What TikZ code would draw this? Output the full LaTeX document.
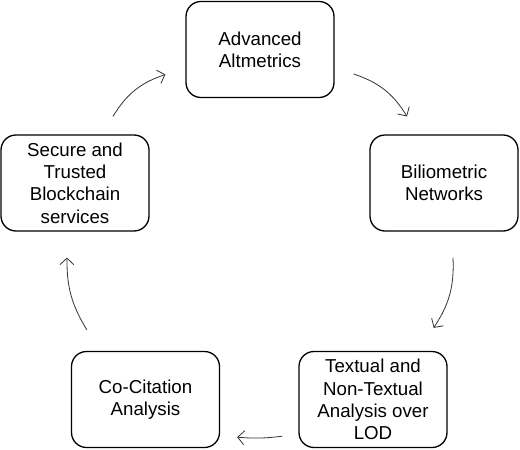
\documentclass[tikz,border=0pt]{standalone}
\usepackage{fontspec}
\setmainfont{Liberation Sans}
\usetikzlibrary{arrows.meta}
\begin{document}
\begin{tikzpicture}[x=1pt,y=1pt,
  box/.style={draw=black,line width=1.3pt,rounded corners=15pt,minimum width=148pt,minimum height=96pt,align=center,inner sep=0pt,font=\fontsize{18.7}{22.3}\selectfont},
  arr/.style={draw=black!80,line width=0.8pt,-{Straight Barb[length=6.5pt,width=14pt]}}]
\useasboundingbox (0,0) rectangle (520,-450);
\node[box] (a) at (260,-49.5) {Advanced\\Altmetrics};
\node[box] (b) at (444,-183) {Biliometric\\Networks};
\node[box] (s) at (75,-183) {Secure and\\Trusted\\Blockchain\\services};
\node[box] (c) at (145.5,-399.5) {Co-Citation\\Analysis};
\node[box] (t) at (373,-399.5) {Textual and\\Non-Textual\\Analysis over\\LOD};
\draw[arr] ([xshift=38pt,yshift=18pt]s.north) to[bend left=20] ([xshift=-20pt,yshift=-25pt]a.west);
\draw[arr] ([xshift=19pt,yshift=-24.5pt]a.east) to[bend left=20] ([xshift=-37pt,yshift=18pt]b.north);
\draw[arr] ([xshift=9pt,yshift=-26pt]b.south) to[bend left=18] ([xshift=-14pt,yshift=23pt]t.north east);
\draw[arr] ([xshift=-16pt,yshift=12pt]t.south west) to[bend left=6] ([xshift=17pt,yshift=11pt]c.south east);
\draw[arr] ([xshift=16pt,yshift=21pt]c.north west) to[bend left=16] ([xshift=-8pt,yshift=-26pt]s.south);
\end{tikzpicture}
\end{document}
